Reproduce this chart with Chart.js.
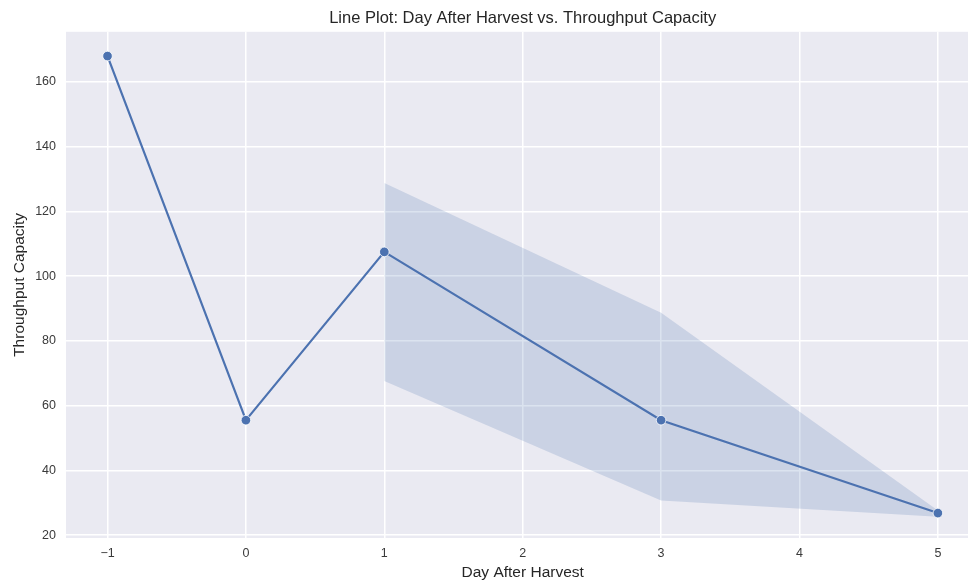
<!DOCTYPE html>
<html>
<head>
<meta charset="utf-8">
<script src="https://cdn.jsdelivr.net/npm/chart.js@4/dist/chart.umd.min.js"></script>
<style>
  html, body { margin: 0; padding: 0; background: #ffffff; overflow: hidden; }
  #wrap { width: 985px; height: 582px; }
</style>
</head>
<body>
<div id="wrap"><canvas id="c" width="985" height="582"></canvas></div>
<script>
// Days after harvest and mean throughput capacity
const days = [-1, 0, 1, 3, 5];
const throughput = [168.0, 55.5, 107.5, 55.5, 26.8];

// Confidence band (only days with repeated measurements)
const bandDays = [1, 3, 5];
const bandUpper = [128.8, 88.7, 27.6];
const bandLower = [67.6, 30.7, 25.7];

// Axis ticks
const xTicks = [-1, 0, 1, 2, 3, 4, 5];
const yTicks = [20, 40, 60, 80, 100, 120, 140, 160];

const lineColor = '#4C72B0';
const fontFamily = '"Liberation Sans", Arial, "DejaVu Sans", sans-serif';

const toPoints = (xs, ys) => xs.map((x, i) => ({ x: x, y: ys[i] }));

const plotBackground = {
  id: 'plotBackground',
  beforeDraw(chart) {
    const { ctx, chartArea: a } = chart;
    ctx.save();
    ctx.fillStyle = '#EAEAF2';
    ctx.fillRect(a.left, a.top, a.right - a.left, a.bottom - a.top);
    ctx.restore();
  }
};

new Chart(document.getElementById('c'), {
  type: 'line',
  data: {
    datasets: [
      {
        label: 'upper',
        data: toPoints(bandDays, bandUpper),
        borderWidth: 0,
        pointRadius: 0,
        fill: false,
        order: 3
      },
      {
        label: 'lower',
        data: toPoints(bandDays, bandLower),
        borderWidth: 0,
        pointRadius: 0,
        fill: { target: '-1' },
        backgroundColor: 'rgba(76,114,176,0.2)',
        order: 2
      },
      {
        label: 'Throughput Capacity',
        data: toPoints(days, throughput),
        borderColor: lineColor,
        borderWidth: 2.2,
        pointRadius: 4.8,
        pointBackgroundColor: lineColor,
        pointBorderColor: '#ffffff',
        pointBorderWidth: 0.8,
        fill: false,
        tension: 0,
        order: 1
      }
    ]
  },
  plugins: [plotBackground],
  options: {
    responsive: false,
    animation: false,
    layout: { padding: { left: 0, right: 0, top: 0, bottom: 0 } },
    plugins: {
      legend: { display: false },
      tooltip: { enabled: false },
      title: {
        display: true,
        text: 'Line Plot: Day After Harvest vs. Throughput Capacity',
        fullSize: false,
        color: '#262626',
        font: { family: fontFamily, size: 16.5, weight: 'normal' },
        padding: { top: 9, bottom: 3 }
      }
    },
    scales: {
      x: {
        type: 'linear',
        min: -1.3,
        max: 5.3,
        afterBuildTicks(scale) { scale.ticks = xTicks.map(v => ({ value: v })); },
        afterFit(scale) { scale.height = 44; },
        grid: { color: '#ffffff', lineWidth: 1.5, drawTicks: false },
        border: { display: false },
        ticks: {
          color: '#3a3a3a',
          padding: 8,
          font: { family: fontFamily, size: 12.5 },
          callback: v => (v < 0 ? '\u2212' + Math.abs(v) : String(v))
        },
        title: {
          display: true,
          text: 'Day After Harvest',
          color: '#262626',
          font: { family: fontFamily, size: 15.5 },
          padding: { top: 1, bottom: 0 }
        }
      },
      y: {
        type: 'linear',
        min: 19.1,
        max: 175.5,
        afterBuildTicks(scale) { scale.ticks = yTicks.map(v => ({ value: v })); },
        afterFit(scale) { scale.width = 66; },
        grid: { color: '#ffffff', lineWidth: 1.5, drawTicks: false },
        border: { display: false },
        ticks: {
          color: '#3a3a3a',
          padding: 10,
          font: { family: fontFamily, size: 12.5 }
        },
        title: {
          display: true,
          text: 'Throughput Capacity',
          color: '#262626',
          font: { family: fontFamily, size: 15.5 },
          padding: { top: 10, bottom: 0 }
        }
      }
    }
  }
});
</script>
</body>
</html>
